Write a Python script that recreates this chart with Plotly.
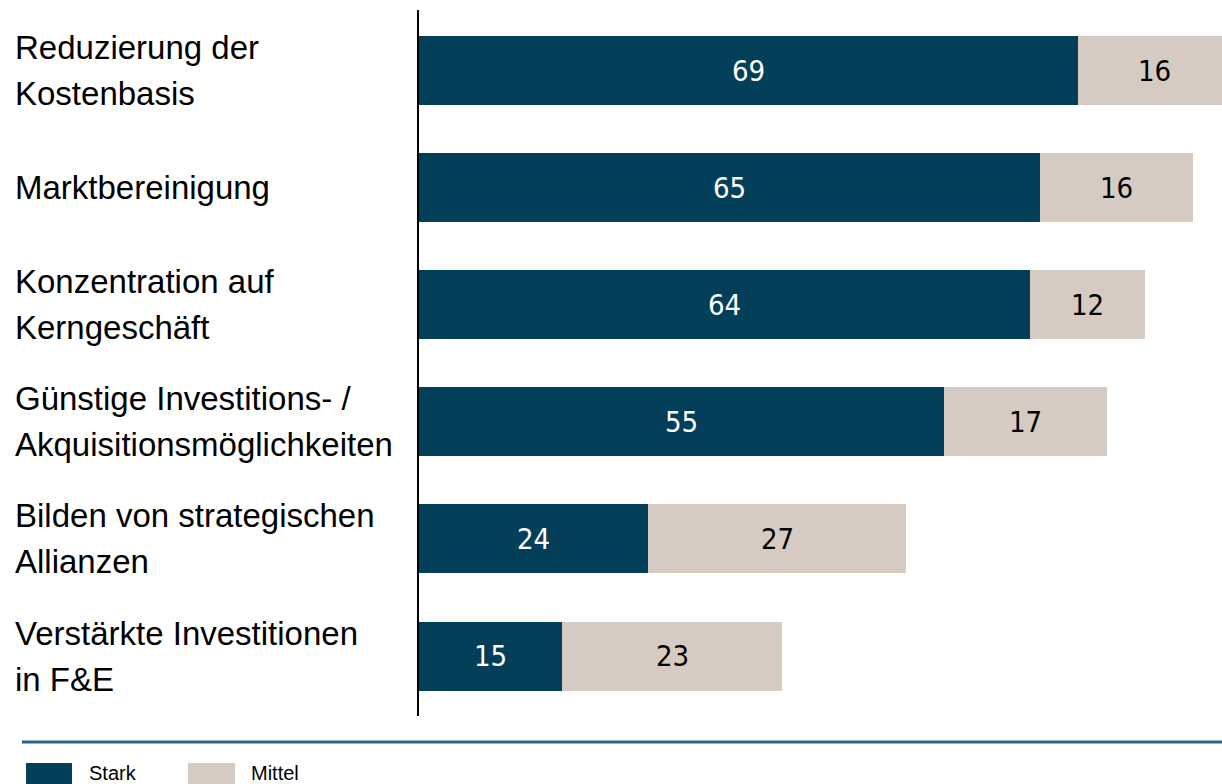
import plotly.graph_objects as go

categories = [
    "Reduzierung der<br>Kostenbasis",
    "Marktbereinigung",
    "Konzentration auf<br>Kerngeschäft",
    "Günstige Investitions- /<br>Akquisitionsmöglichkeiten",
    "Bilden von strategischen<br>Allianzen",
    "Verstärkte Investitionen<br>in F&E",
]
stark = [69, 65, 64, 55, 24, 15]
mittel = [16, 16, 12, 17, 27, 23]
series_names = ["Stark", "Mittel"]

DARK = "#033F58"
BEIGE = "#D5CBC2"
LINE = "#2B6585"
LABEL_FONT = "Liberation Sans, Arial, sans-serif"
NUM_FONT = "DejaVu Sans Condensed, Liberation Sans, Arial, sans-serif"

W, H = 1222, 784
ML, MR, MT, MB = 419, 0, 10, 68
PW, PH = W - ML - MR, H - MT - MB


def px_to_paper_x(px):
    return (px - ML) / PW


def px_to_paper_y(py):
    return (H - MB - py) / PH


fig = go.Figure()
fig.add_trace(go.Bar(y=categories, x=stark, name=series_names[0], orientation="h",
                     marker=dict(color=DARK, line=dict(width=0)), width=0.59))
fig.add_trace(go.Bar(y=categories, x=mittel, name=series_names[1], orientation="h",
                     marker=dict(color=BEIGE, line=dict(width=0)), width=0.59))

annotations = []
for cat, s, m in zip(categories, stark, mittel):
    annotations.append(dict(x=s / 2, y=cat, xref="x", yref="y", text=str(s), showarrow=False,
                            font=dict(family=NUM_FONT, size=29, color="white")))
    annotations.append(dict(x=s + m / 2, y=cat, xref="x", yref="y", text=str(m), showarrow=False,
                            font=dict(family=NUM_FONT, size=29, color="black")))
    lines = cat.split("<br>")
    n = len(lines)
    for i, ln in enumerate(lines):
        shift = -(i - (n - 1) / 2) * 46
        annotations.append(dict(x=px_to_paper_x(13), y=cat, xref="paper", yref="y", text=ln,
                                showarrow=False, xanchor="left", yanchor="middle", yshift=shift,
                                font=dict(family=LABEL_FONT, size=33, color="black")))

# legend (manual)
shapes = [dict(type="line", xref="paper", yref="paper",
               x0=px_to_paper_x(22), x1=px_to_paper_x(1222),
               y0=px_to_paper_y(742), y1=px_to_paper_y(742),
               line=dict(color=LINE, width=3))]
legend_x = [(26, 72, 87), (188, 235, 249)]
for (x0, x1, tx), name, col in zip(legend_x, series_names, [DARK, BEIGE]):
    shapes.append(dict(type="rect", xref="paper", yref="paper",
                       x0=px_to_paper_x(x0), x1=px_to_paper_x(x1),
                       y0=px_to_paper_y(792), y1=px_to_paper_y(763),
                       fillcolor=col, line=dict(width=0)))
    annotations.append(dict(x=px_to_paper_x(tx), y=px_to_paper_y(773), xref="paper", yref="paper",
                            text=name, showarrow=False, xanchor="left", yanchor="middle",
                            font=dict(family=LABEL_FONT, size=20, color="black")))

fig.update_layout(
    barmode="stack",
    width=W, height=H,
    margin=dict(l=ML, r=MR, t=MT, b=MB, pad=0),
    plot_bgcolor="white", paper_bgcolor="white",
    showlegend=False,
    annotations=annotations,
    shapes=shapes,
    xaxis=dict(range=[0, 84.08], showgrid=False, zeroline=False, showticklabels=False,
               showline=False, ticks=""),
    yaxis=dict(categoryorder="array", categoryarray=categories, range=[5.512, -0.517],
               showgrid=False, zeroline=False, showticklabels=False, ticks="",
               showline=True, linecolor="black", linewidth=2),
)

fig.write_html("out.html", config={"displayModeBar": False},
               post_script="document.body.style.margin='0';")
